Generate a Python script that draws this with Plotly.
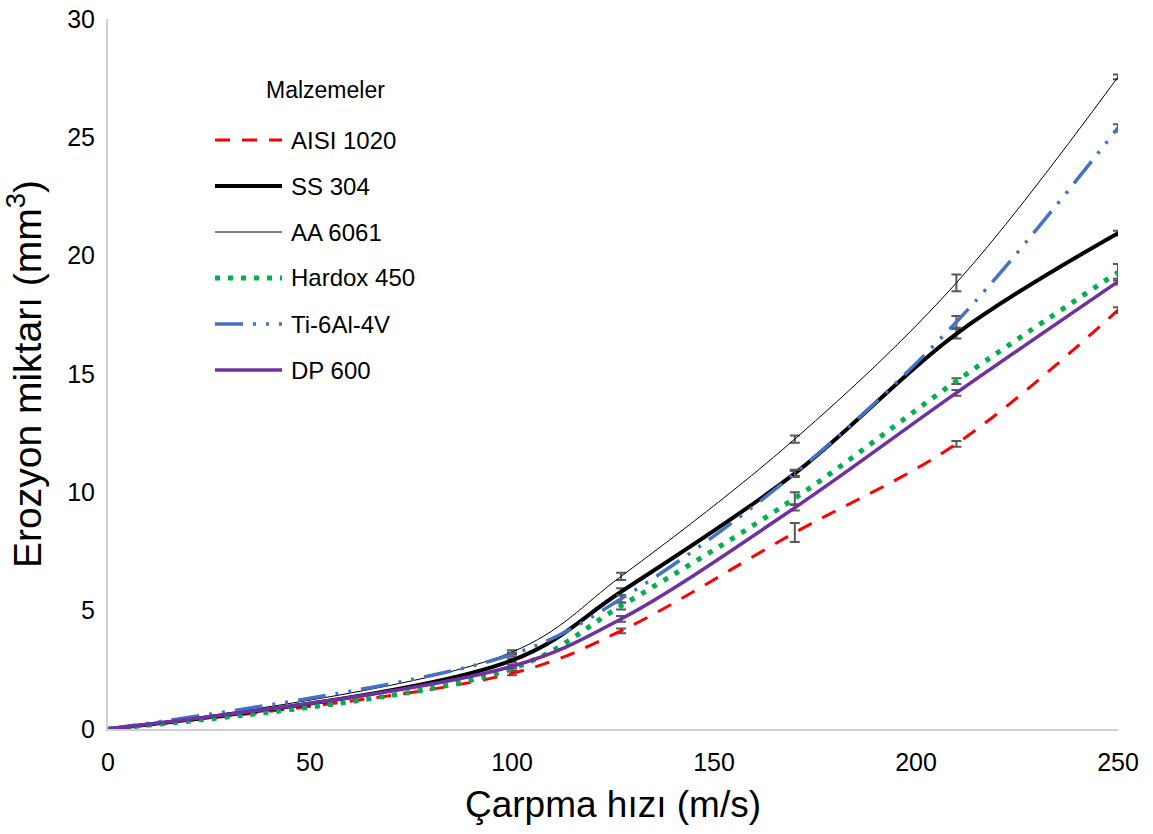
import plotly.graph_objects as go

# Impact velocity (m/s)
hiz = [0, 100, 127, 170, 210, 250]

# Erosion volume (mm^3) per material
aisi_1020 = [0, 2.35, 4.15, 8.3, 12.05, 17.7]
ss_304 = [0, 2.9, 5.8, 10.8, 16.7, 20.95]
aa_6061 = [0, 3.25, 6.45, 12.25, 18.85, 27.55]
hardox_450 = [0, 2.55, 5.2, 9.75, 14.7, 19.3]
ti_6al_4v = [0, 3.15, 5.5, 10.8, 17.2, 25.4]
dp_600 = [0, 2.65, 4.65, 9.35, 14.2, 18.9]

# Standard deviations
aisi_1020_err = [0, 0.08, 0.1, 0.4, 0.12, 0.12]
ss_304_err = [0, 0.08, 0.15, 0.1, 0.2, 0.1]
aa_6061_err = [0, 0.08, 0.15, 0.15, 0.35, 0.1]
hardox_450_err = [0, 0.08, 0.15, 0.25, 0.12, 0.35]
ti_6al_4v_err = [0, 0.08, 0.15, 0.15, 0.25, 0.15]
dp_600_err = [0, 0.08, 0.12, 0.12, 0.12, 0.12]

names = ["AISI 1020", "SS 304", "AA 6061", "Hardox 450", "Ti-6Al-4V", "DP 600"]
series = [aisi_1020, ss_304, aa_6061, hardox_450, ti_6al_4v, dp_600]
errors = [aisi_1020_err, ss_304_err, aa_6061_err, hardox_450_err, ti_6al_4v_err, dp_600_err]

styles = [
    dict(color="#FF0000", width=3, dash="15px,12px"),
    dict(color="#000000", width=4, dash="solid"),
    dict(color="#000000", width=1, dash="solid"),
    dict(color="#00B050", width=5, dash="5px,8px"),
    dict(color="#4472C4", width=3.5, dash="28px,10px,3px,10px,3px,10px"),
    dict(color="#7030A0", width=3.5, dash="solid"),
]

FONT = "Liberation Sans, Arial, sans-serif"
W, H = 1153, 834
L, R, T, B = 108, 35, 19, 105

fig = go.Figure()
for name, y, err, st in zip(names, series, errors, styles):
    fig.add_trace(go.Scatter(
        x=hiz, y=y, name=name, mode="lines",
        line=dict(color=st["color"], width=st["width"], dash=st["dash"],
                  shape="spline", smoothing=1),
        error_y=dict(type="data", array=err, visible=True,
                     color="#595959", thickness=2, width=5),
        showlegend=False,
    ))


def px_x(p):
    return (p - L) / (W - L - R)


def px_y(p):
    return (H - B - p) / (H - T - B)


# Legend block: title plus one sample line and label per material
fig.add_annotation(x=px_x(325), y=px_y(90), xref="paper", yref="paper",
                   text="Malzemeler", showarrow=False,
                   xanchor="center", yanchor="middle",
                   font=dict(family=FONT, size=23, color="#000000"))
for i, (name, st) in enumerate(zip(names, styles)):
    yc = 140 + 46 * i
    fig.add_shape(type="line", xref="paper", yref="paper",
                  x0=px_x(215), x1=px_x(282), y0=px_y(yc), y1=px_y(yc),
                  line=dict(color=st["color"], width=st["width"], dash=st["dash"]))
    fig.add_annotation(x=px_x(289), y=px_y(yc), xref="paper", yref="paper",
                       text=name, showarrow=False,
                       xanchor="left", yanchor="middle",
                       font=dict(family=FONT, size=24, color="#000000"))

fig.update_layout(
    width=W, height=H,
    margin=dict(l=L, r=R, t=T, b=B, autoexpand=False),
    paper_bgcolor="white", plot_bgcolor="white",
    font=dict(family=FONT, color="#000000"),
    showlegend=False,
)
fig.update_xaxes(
    range=[0, 250], dtick=50, tick0=0, automargin=False,
    showgrid=False, zeroline=False,
    showline=True, linecolor="#D0D0D0", linewidth=2,
    ticks="outside", ticklen=10, tickcolor="rgba(0,0,0,0)",
    tickfont=dict(family=FONT, size=25, color="#000000"),
    title=dict(text="Çarpma hızı (m/s)", standoff=16,
               font=dict(family=FONT, size=37, color="#000000")),
)
fig.update_yaxes(
    range=[0, 30], dtick=5, tick0=0, automargin=False,
    showgrid=False, zeroline=False,
    showline=True, linecolor="#D0D0D0", linewidth=2,
    ticks="outside", ticklen=6, tickcolor="rgba(0,0,0,0)",
    tickfont=dict(family=FONT, size=25, color="#000000"),
    title=dict(text="Erozyon miktarı (mm<sup>3</sup>)", standoff=14,
               font=dict(family=FONT, size=39, color="#000000")),
)

fig.write_html("out.html")
